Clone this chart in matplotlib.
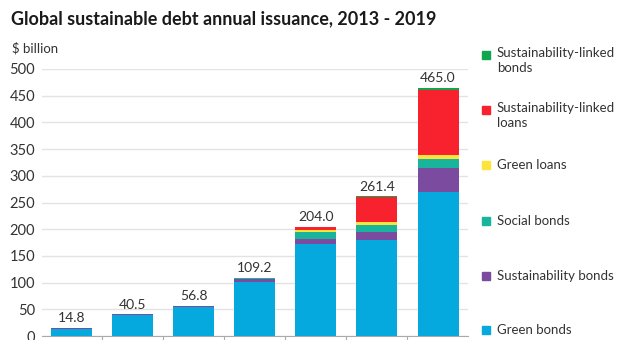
import numpy as np
import matplotlib.pyplot as plt
from matplotlib.patches import Rectangle

plt.rcParams['font.family'] = ['Lato', 'DejaVu Sans']

years = ["2013", "2014", "2015", "2016", "2017", "2018", "2019"]
totals = [14.8, 40.5, 56.8, 109.2, 204.0, 261.4, 465.0]

# stacked components, bottom to top ($ billion)
green_bonds = [13.8, 38.5, 54.0, 101.0, 172.0, 180.0, 269.0]
sustainability_bonds = [1.0, 2.0, 2.8, 6.2, 9.0, 14.0, 46.0]
social_bonds = [0.0, 0.0, 0.0, 2.0, 14.0, 14.0, 17.0]
green_loans = [0.0, 0.0, 0.0, 0.0, 3.0, 6.0, 7.0]
sl_loans = [0.0, 0.0, 0.0, 0.0, 6.0, 46.0, 122.0]
sl_bonds = [0.0, 0.0, 0.0, 0.0, 0.0, 1.4, 4.0]

series = [
    ("Green bonds", green_bonds, "#05a9de"),
    ("Sustainability bonds", sustainability_bonds, "#7a4b9e"),
    ("Social bonds", social_bonds, "#19b49c"),
    ("Green loans", green_loans, "#fde33a"),
    ("Sustainability-linked\nloans", sl_loans, "#f7222e"),
    ("Sustainability-linked\nbonds", sl_bonds, "#10a64e"),
]

W, H = 617, 340
fig = plt.figure(figsize=(W / 100, H / 100), dpi=100)
ax = fig.add_axes([42 / W, (H - 336) / H, 426 / W, (336 - 69) / H])

x = np.arange(len(years))
bottom = np.zeros(len(years))
for name, vals, col in series:
    ax.bar(x, vals, bottom=bottom, width=0.67, color=col, linewidth=0, zorder=3)
    bottom += np.array(vals)

for xi, t in zip(x, totals):
    ax.text(xi, t + 7, f"{t:.1f}", ha="center", va="bottom", fontsize=10, color="#333333")

ax.set_xlim(-0.48, 6.49)
ax.set_ylim(0, 500)
ax.set_yticks(np.arange(0, 501, 50))
ax.yaxis.grid(True, color="#e3e3e3", linewidth=1, zorder=0)
ax.tick_params(axis="y", length=0, pad=5, labelsize=10.5, labelcolor="#333333")
ax.set_xticks([])
ax.set_xticks(np.arange(0.5, 6, 1), minor=True)
ax.tick_params(axis="x", which="minor", length=3, color="#aaaaaa", width=0.8)
for s in ["top", "right", "left"]:
    ax.spines[s].set_visible(False)
ax.spines["bottom"].set_color("#aaaaaa")
ax.spines["bottom"].set_linewidth(0.8)

fig.text(11 / W, 1 - 19 / H, "Global sustainable debt annual issuance, 2013 - 2019",
         fontsize=13, fontweight="bold", color="#1a1a1a", va="center", ha="left")
fig.text(12 / W, 1 - 48 / H, "$ billion", fontsize=9.5, color="#333333", va="center", ha="left")

# legend on the right, top to bottom
leg_y = [55, 110, 165, 221, 276, 330]
for (name, vals, col), yy in zip(reversed(series), leg_y):
    fig.patches.append(Rectangle((482 / W, 1 - (yy + 4) / H), 8 / W, 8 / H,
                                 transform=fig.transFigure, color=col))
    ty = yy - 8 if "\n" in name else yy
    fig.text(497 / W, 1 - ty / H, name, fontsize=9.5, color="#333333",
             va="top" if "\n" in name else "center", ha="left", linespacing=1.25)

fig.savefig("out.png", dpi=100)
